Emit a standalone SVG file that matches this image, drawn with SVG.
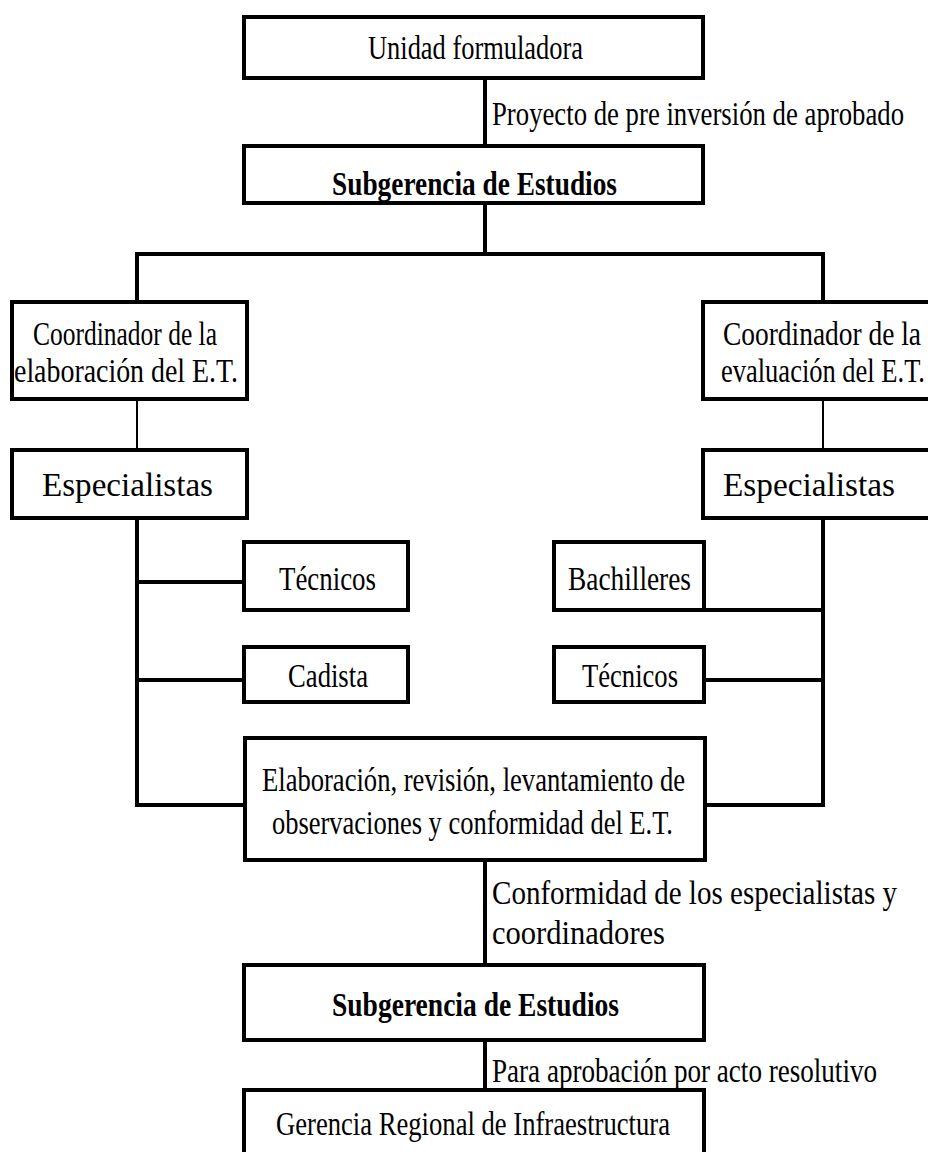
<svg xmlns="http://www.w3.org/2000/svg" width="928" height="1152" viewBox="0 0 928 1152">
<style>
.box{fill:#fff;stroke:#000;stroke-width:4}
.t{font-family:"Liberation Serif","Times New Roman",serif;font-size:34px;fill:#000}
.b{font-weight:bold}
.c{fill:none;stroke:#000;stroke-width:4}
.thin{fill:none;stroke:#000;stroke-width:2}
</style>
<rect width="928" height="1152" fill="#fff"/>
<g id="connectors">
<path class="c" d="M485 78V146M485 203V254M137 254H823M137 252V302M823 252V302"/>
<path class="thin" d="M137 400V450M823 400V450"/>
<path class="c" d="M137 518V807M137 582H244M137 680H244M135 805H245"/>
<path class="c" d="M823 518V807M704 610H823M704 680H823M704 805H825"/>
<path class="c" d="M485 860V965M485 1040V1090"/>
</g>
<g id="unidad">
<rect class="box" x="244" y="17" width="459" height="61"/>
<text class="t" x="368" y="59" textLength="215" lengthAdjust="spacingAndGlyphs">Unidad formuladora</text>
</g>
<g id="label1">
<text class="t" x="492" y="125" textLength="412" lengthAdjust="spacingAndGlyphs">Proyecto de pre inversión de aprobado</text>
</g>
<g id="subgerencia1">
<rect class="box" x="244" y="146" width="459" height="57"/>
<text class="t b" x="332" y="195" textLength="285" lengthAdjust="spacingAndGlyphs">Subgerencia de Estudios</text>
</g>
<g id="coord-elab">
<rect class="box" x="12" y="302" width="235" height="97"/>
<text class="t" x="33" y="345" textLength="184" lengthAdjust="spacingAndGlyphs">Coordinador de la</text>
<text class="t" x="14" y="382" textLength="224" lengthAdjust="spacingAndGlyphs">elaboración del E.T.</text>
</g>
<g id="coord-eval">
<rect class="box" x="703" y="302" width="230" height="97"/>
<text class="t" x="723" y="345" textLength="198" lengthAdjust="spacingAndGlyphs">Coordinador de la</text>
<text class="t" x="721" y="382" textLength="204" lengthAdjust="spacingAndGlyphs">evaluación del E.T.</text>
</g>
<g id="esp-left">
<rect class="box" x="12" y="450" width="235" height="68"/>
<text class="t" x="42" y="496" textLength="171" lengthAdjust="spacingAndGlyphs">Especialistas</text>
</g>
<g id="esp-right">
<rect class="box" x="703" y="450" width="230" height="68"/>
<text class="t" x="723" y="496" textLength="172" lengthAdjust="spacingAndGlyphs">Especialistas</text>
</g>
<g id="tecnicos-left">
<rect class="box" x="244" y="542" width="164" height="68"/>
<text class="t" x="279" y="590" textLength="97" lengthAdjust="spacingAndGlyphs">Técnicos</text>
</g>
<g id="cadista">
<rect class="box" x="244" y="647" width="164" height="55"/>
<text class="t" x="288" y="687" textLength="80" lengthAdjust="spacingAndGlyphs">Cadista</text>
</g>
<g id="bachilleres">
<rect class="box" x="554" y="542" width="150" height="68"/>
<text class="t" x="568" y="590" textLength="123" lengthAdjust="spacingAndGlyphs">Bachilleres</text>
</g>
<g id="tecnicos-right">
<rect class="box" x="554" y="647" width="150" height="55"/>
<text class="t" x="582" y="687" textLength="96" lengthAdjust="spacingAndGlyphs">Técnicos</text>
</g>
<g id="elaboracion">
<rect class="box" x="245" y="738" width="460" height="122"/>
<text class="t" x="262" y="791" textLength="423" lengthAdjust="spacingAndGlyphs">Elaboración, revisión, levantamiento de</text>
<text class="t" x="272" y="834" textLength="401" lengthAdjust="spacingAndGlyphs">observaciones y conformidad del E.T.</text>
</g>
<g id="label2">
<text class="t" x="492" y="904" textLength="405" lengthAdjust="spacingAndGlyphs">Conformidad de los especialistas y</text>
<text class="t" x="492" y="944" textLength="173" lengthAdjust="spacingAndGlyphs">coordinadores</text>
</g>
<g id="subgerencia2">
<rect class="box" x="244" y="965" width="460" height="75"/>
<text class="t b" x="332" y="1016" textLength="287" lengthAdjust="spacingAndGlyphs">Subgerencia de Estudios</text>
</g>
<g id="label3">
<text class="t" x="492" y="1082" textLength="385" lengthAdjust="spacingAndGlyphs">Para aprobación por acto resolutivo</text>
</g>
<g id="gerencia">
<rect class="box" x="244" y="1090" width="460" height="80"/>
<text class="t" x="276" y="1135" textLength="394" lengthAdjust="spacingAndGlyphs">Gerencia Regional de Infraestructura</text>
</g>
</svg>
